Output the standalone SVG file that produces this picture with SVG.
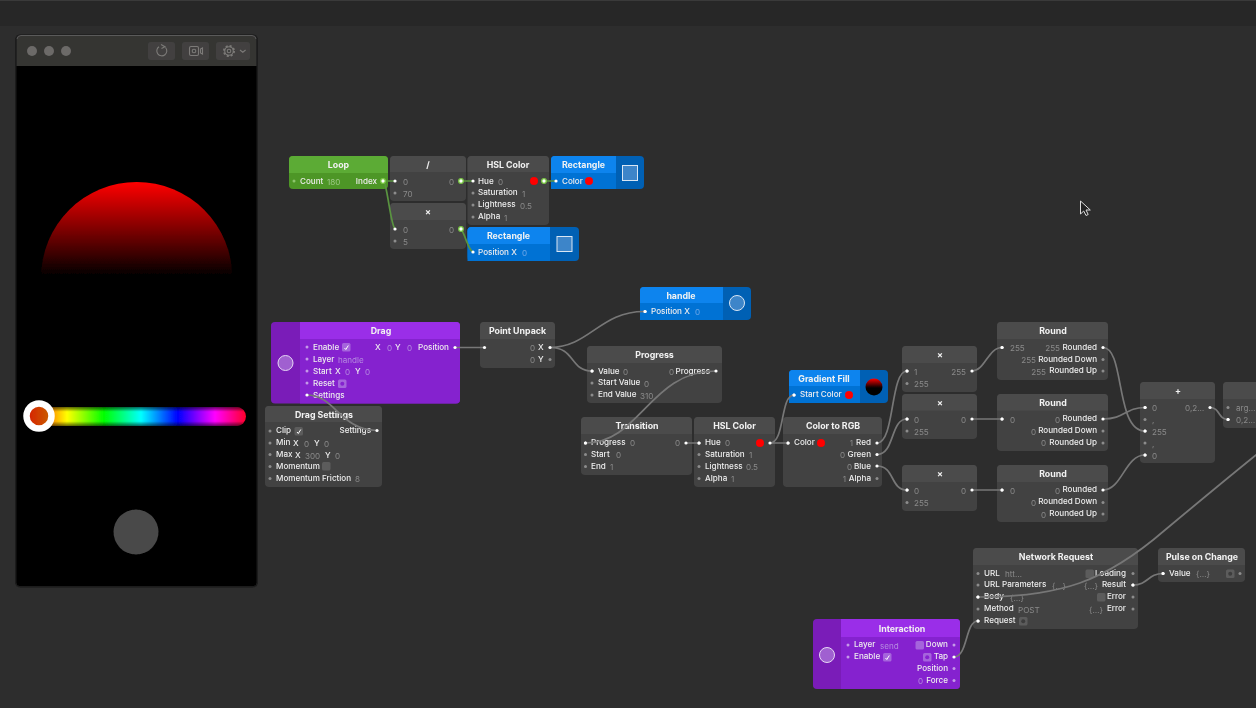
<svg xmlns="http://www.w3.org/2000/svg" width="1256" height="708" viewBox="0 0 1256 708">
<style>
text{font-family:"Inter","Liberation Sans",sans-serif;font-size:8.1px;font-weight:500;fill:#eee}
.t{font-size:8.8px;font-weight:700;text-anchor:middle;fill:#f2f2f2}
.e{text-anchor:end}
.v{fill:#8a8a8a;font-weight:400}
.vp{fill:#b58ae0;font-weight:400}
.vb{fill:#6aa8e8;font-weight:400}
.vg{fill:#9cc986;font-weight:400}
.b{fill:#424242}.h{fill:#4c4c4c}
.p{fill:#8c8c8c}.w{fill:#fff}
.pp{fill:#c49ae8}.pb{fill:#fff}
.r{fill:#f00}
.cb{fill:#5c5c5c}.cp{fill:#a565dc}
.c{fill:none;stroke:#777;stroke-width:1.700;stroke-linecap:round}
.g{fill:none;stroke:#5a9440;stroke-width:1.700;stroke-linecap:round}
.go{fill:#fff;stroke:#7ac943;stroke-width:1.300}
.tick{fill:none;stroke:#fff;stroke-width:1}
.th{fill:#3d85c9;stroke:#d8e6f4;stroke-width:1}
.tp{fill:#a060d0;stroke:#e6d6f4;stroke-width:1}
.i{fill:none;stroke:#7c7a78;stroke-width:1.100}
.dot{fill:#6c6a68}
.btn{fill:#424140}
</style>
<defs>
<linearGradient id="sun" gradientUnits="userSpaceOnUse" x1="0" y1="182" x2="0" y2="276"><stop offset="0" stop-color="#f00"/><stop offset="1" stop-color="#000"/></linearGradient>
<linearGradient id="gf" x1="0" y1="0" x2="0" y2="1"><stop offset="0" stop-color="#f00"/><stop offset=".55" stop-color="#000"/></linearGradient>
<linearGradient id="hue" gradientUnits="userSpaceOnUse" x1="30" y1="0" x2="252" y2="0"><stop offset="0" stop-color="#f00"/><stop offset=".1667" stop-color="#ff0"/><stop offset=".3333" stop-color="#0f0"/><stop offset=".5" stop-color="#0ff"/><stop offset=".6667" stop-color="#00f"/><stop offset=".8333" stop-color="#f0f"/><stop offset="1" stop-color="#f00"/></linearGradient>
<linearGradient id="fade" x1="0" y1="0" x2="0" y2="1"><stop offset="0" stop-color="#000" stop-opacity=".6"/><stop offset=".25" stop-color="#000" stop-opacity="0"/><stop offset=".75" stop-color="#000" stop-opacity="0"/><stop offset="1" stop-color="#000" stop-opacity=".6"/></linearGradient>
<linearGradient id="knob" x1="0" y1="0" x2="1" y2="0"><stop offset="0" stop-color="#d81c00"/><stop offset="1" stop-color="#c86400"/></linearGradient>
<clipPath id="sunclip"><rect x="30" y="170" width="220" height="106"/></clipPath>
<filter id="soft" x="0" y="0" width="100%" height="100%"><feGaussianBlur stdDeviation=".3"/></filter>
</defs>
<rect width="1256" height="708" fill="#2d2d2d"/>
<rect width="1256" height="26" fill="#272727"/>
<rect width="1256" height="1" fill="#3a3a3a"/>
<g filter="url(#soft)">
<g id="preview">
<rect x="15" y="34.500" width="243" height="553" rx="5" fill="#1c1c1c"/>
<rect x="16.500" y="35.500" width="240" height="550.500" rx="4" fill="#000"/>
<path d="M16.500 66V39.500a4 4 0 0 1 4-4h232a4 4 0 0 1 4 4V66z" fill="#353433"/>
<path d="M17 39a4 4 0 0 1 4-3.500h231a4 4 0 0 1 4 3.500" fill="none" stroke="#5a5a5a"/>
<circle class="dot" cx="32" cy="51" r="5"/><circle class="dot" cx="49" cy="51" r="5"/><circle class="dot" cx="66" cy="51" r="5"/>
<rect class="btn" x="148" y="42" width="27" height="18" rx="3"/><rect class="btn" x="182" y="42" width="27" height="18" rx="3"/><rect class="btn" x="216" y="42" width="34" height="18" rx="3"/>
<path class="i" d="M165.500 47.500a5 5 0 1 1-6.500-.8M161 44.500l4 2.300-3.500 1.800"/>
<rect class="i" x="189.500" y="46.500" width="9" height="9" rx="1.500"/><circle class="i" cx="194" cy="51" r="1.800"/><path class="i" d="M200.500 49l2-1v6l-2-1z"/>
<circle cx="229" cy="51" r="5" fill="none" stroke="#7c7a78" stroke-width="2" stroke-dasharray="2 1.930"/><circle class="i" cx="229" cy="51" r="4.300"/><circle class="i" cx="229" cy="51" r="1.800"/><path class="i" d="M240 50l2.800 2.200 2.800-2.200"/>
<circle cx="136.700" cy="277.600" r="95.600" fill="url(#sun)" clip-path="url(#sunclip)"/>
<rect x="39" y="407" width="207" height="19" rx="9.500" fill="url(#hue)"/>
<rect x="39" y="407" width="207" height="19" rx="9.500" fill="url(#fade)"/>
<circle cx="39" cy="416" r="12.500" fill="url(#knob)" stroke="#fff" stroke-width="6.500"/>
<circle cx="136" cy="532" r="22.500" fill="#484848"/>
</g>

<g id="loop"><rect x="289" y="156" width="99" height="33" rx="4" fill="#4e9625"/><path d="M289 173v-13a4 4 0 0 1 4-4h91a4 4 0 0 1 4 4v13z" fill="#5bab34"/>
<text class="t" x="338.500" y="167.500">Loop</text><circle cx="294" cy="181" r="1.500" fill="#8cc46c"/><text x="300" y="183.500">Count</text><text class="vg" x="327" y="184.500">180</text><text class="e" x="377" y="183.500">Index</text></g>

<g id="divide"><rect class="b" x="390" y="156" width="76" height="45" rx="4"/><path class="h" d="M390 172v-12a4 4 0 0 1 4-4h68a4 4 0 0 1 4 4v12z"/>
<text class="t" x="428" y="167.500">/</text><circle class="p" cx="395" cy="193" r="1.500"/><text class="v" x="403" y="184.500">0</text><text class="v" x="403" y="196.500">70</text><text class="v e" x="454" y="184.500">0</text></g>

<g id="mul0"><rect class="b" x="390" y="203" width="76" height="46" rx="4"/><path class="h" d="M390 220v-13a4 4 0 0 1 4-4h68a4 4 0 0 1 4 4v13z"/>
<text class="t" x="428" y="215">×</text><circle class="p" cx="395" cy="241" r="1.500"/><text class="v" x="403" y="232.500">0</text><text class="v" x="403" y="244.500">5</text><text class="v e" x="454" y="232.500">0</text></g>

<g id="hsl1"><rect class="b" x="467.500" y="156" width="81.500" height="69" rx="4"/><path class="h" d="M467.500 172v-12a4 4 0 0 1 4-4h73.500a4 4 0 0 1 4 4v12z"/>
<text class="t" x="508" y="167.500">HSL Color</text>
<circle class="p" cx="473" cy="193" r="1.500"/><circle class="p" cx="473" cy="205" r="1.500"/><circle class="p" cx="473" cy="217" r="1.500"/>
<text x="478" y="183.500">Hue</text><text class="v" x="498" y="184.500">0</text><text x="478" y="195">Saturation</text><text class="v" x="522" y="196.500">1</text><text x="478" y="207">Lightness</text><text class="v" x="520" y="208.500">0.5</text><text x="478" y="219">Alpha</text><text class="v" x="504" y="220.500">1</text><circle class="r" cx="534" cy="181" r="4"/></g>

<g id="rect1"><rect x="551" y="156" width="93" height="33" rx="4" fill="#0560b4"/><path d="M551 189v-29a4 4 0 0 1 4-4h61v33z" fill="#0672d4"/><path d="M551 173v-13a4 4 0 0 1 4-4h61v17z" fill="#0a84ee"/>
<text class="t" x="583.500" y="167.500">Rectangle</text><text x="562" y="183.500">Color</text><circle class="r" cx="589" cy="181" r="4"/><rect class="th" x="622.500" y="165.500" width="15" height="15"/></g>

<g id="rect2"><rect x="467.500" y="227" width="111.500" height="34" rx="4" fill="#0560b4"/><path d="M467.500 261v-30a4 4 0 0 1 4-4h78.500v34z" fill="#0672d4"/><path d="M467.500 244v-13a4 4 0 0 1 4-4h78.500v17z" fill="#0a84ee"/>
<text class="t" x="508.500" y="239">Rectangle</text><text x="478" y="254.500">Position X</text><text class="vb" x="522" y="255.500">0</text><rect class="th" x="557" y="236.500" width="15" height="15"/></g>

<g id="handle"><rect x="640" y="287" width="111" height="33" rx="4" fill="#0560b4"/><path d="M640 320v-29a4 4 0 0 1 4-4h79v33z" fill="#0672d4"/><path d="M640 303v-12a4 4 0 0 1 4-4h79v16z" fill="#0a84ee"/>
<text class="t" x="681" y="298.500">handle</text><circle class="w" cx="645" cy="311.500" r="1.600"/><text x="651" y="313.500">Position X</text><text class="vb" x="695" y="315">0</text><circle class="th" cx="737" cy="303" r="7.500"/></g>

<g id="drag"><rect x="271" y="322" width="189" height="81.500" rx="4" fill="#7a1fb8"/><path d="M300 403.500V322h156a4 4 0 0 1 4 4v73.500a4 4 0 0 1-4 4z" fill="#8521cf"/><path d="M300 339v-17h156a4 4 0 0 1 4 4v13z" fill="#9a2ee8"/>
<text class="t" x="381" y="334">Drag</text><circle class="tp" cx="285.500" cy="363" r="7.500"/>
<circle class="pp" cx="307" cy="347" r="1.500"/><circle class="pp" cx="307" cy="359" r="1.500"/><circle class="pp" cx="307" cy="371" r="1.500"/><circle class="pp" cx="307" cy="383" r="1.500"/>
<text x="313" y="349.500">Enable</text><rect class="cp" x="342" y="343" width="8.500" height="8.500" rx="1.500"/><path class="tick" d="M344.500 348l1.300 1.500 2.500-4"/>
<text x="375" y="350">X</text><text class="vp" x="387" y="350.500">0</text><text x="395" y="350">Y</text><text class="vp" x="407" y="350.500">0</text><text x="418" y="349.500">Position</text>
<text x="313" y="361.500">Layer</text><text class="vp" x="338" y="362.500">handle</text>
<text x="313" y="373.500">Start</text><text x="335" y="374">X</text><text class="vp" x="345" y="374.500">0</text><text x="355" y="374">Y</text><text class="vp" x="365" y="374.500">0</text>
<text x="313" y="385.500">Reset</text><rect class="cp" x="338" y="379.500" width="8.500" height="8.500" rx="1.500"/><circle cx="342.300" cy="383.700" r="2" fill="#8521cf"/>
<text x="313" y="397.500">Settings</text></g>

<g id="pointunpack"><rect class="b" x="480" y="322" width="75" height="46" rx="4"/><path class="h" d="M480 339v-13a4 4 0 0 1 4-4h67a4 4 0 0 1 4 4v13z"/>
<text class="t" x="517.500" y="334">Point Unpack</text><text class="v e" x="535" y="351">0</text><text x="538" y="350">X</text><text class="v e" x="535" y="363">0</text><text x="538" y="362">Y</text><circle class="p" cx="550" cy="359.500" r="1.500"/></g>

<g id="dragsettings"><rect class="b" x="265" y="406" width="117" height="81" rx="4"/><path class="h" d="M265 422v-12a4 4 0 0 1 4-4h109a4 4 0 0 1 4 4v12z"/>
<text class="t" x="324" y="417.500">Drag Settings</text>
<circle class="p" cx="270" cy="431" r="1.500"/><circle class="p" cx="270" cy="443" r="1.500"/><circle class="p" cx="270" cy="454.500" r="1.500"/><circle class="p" cx="270" cy="466.500" r="1.500"/><circle class="p" cx="270" cy="478.500" r="1.500"/>
<text x="276" y="433">Clip</text><rect class="cb" x="294.500" y="427" width="8.500" height="8.500" rx="1.500"/><path class="tick" d="M297 432l1.300 1.500 2.500-4"/><text class="e" x="371" y="433">Settings</text>
<text x="276" y="445">Min</text><text x="293" y="445.500">X</text><text class="v" x="304" y="446.500">0</text><text x="314" y="445.500">Y</text><text class="v" x="324" y="446.500">0</text>
<text x="276" y="457">Max</text><text x="295" y="457.500">X</text><text class="v" x="305" y="458.500">300</text><text x="325" y="457.500">Y</text><text class="v" x="335" y="458.500">0</text>
<text x="276" y="468.500">Momentum</text><rect class="cb" x="322" y="462" width="8.500" height="8.500" rx="1.500"/>
<text x="276" y="480.500">Momentum Friction</text><text class="v" x="355" y="482">8</text></g>

<g id="progress"><rect class="b" x="587" y="346" width="135" height="57" rx="4"/><path class="h" d="M587 363v-13a4 4 0 0 1 4-4h127a4 4 0 0 1 4 4v13z"/>
<text class="t" x="654.500" y="358">Progress</text><circle class="w" cx="592" cy="371" r="1.600"/><circle class="p" cx="592" cy="383" r="1.500"/><circle class="p" cx="592" cy="395" r="1.500"/>
<text x="598" y="373.500">Value</text><text class="v" x="623" y="375">0</text><text x="598" y="385">Start Value</text><text class="v" x="644" y="387">0</text><text x="598" y="397">End Value</text><text class="v" x="640" y="399">310</text><text class="v e" x="674" y="375">0</text><text class="e" x="710" y="373.500">Progress</text></g>

<g id="gradientfill"><rect x="789" y="370" width="99" height="33" rx="4" fill="#0560b4"/><path d="M789 403v-29a4 4 0 0 1 4-4h67v33z" fill="#0672d4"/><path d="M789 386v-12a4 4 0 0 1 4-4h67v16z" fill="#0a84ee"/>
<text class="t" x="824" y="381.500">Gradient Fill</text><circle class="w" cx="794" cy="395" r="1.600"/><text x="800" y="397">Start Color</text><circle class="r" cx="849" cy="395" r="4"/><circle cx="874" cy="387" r="8.500" fill="url(#gf)"/></g>

<g id="transition"><rect class="b" x="581" y="417" width="111" height="58" rx="4"/><path class="h" d="M581 434v-13a4 4 0 0 1 4-4h103a4 4 0 0 1 4 4v13z"/>
<text class="t" x="637" y="429">Transition</text><circle class="w" cx="585.500" cy="443" r="1.600"/><circle class="p" cx="585.500" cy="454.500" r="1.500"/><circle class="p" cx="585.500" cy="466.500" r="1.500"/>
<text x="591" y="445">Progress</text><text class="v" x="630" y="446">0</text><text x="591" y="457">Start</text><text class="v" x="616" y="458">0</text><text x="591" y="468.500">End</text><text class="v" x="610" y="470">1</text><text class="v e" x="680" y="446">0</text></g>

<g id="hsl2"><rect class="b" x="694" y="417" width="81" height="70" rx="4"/><path class="h" d="M694 434v-13a4 4 0 0 1 4-4h73a4 4 0 0 1 4 4v13z"/>
<text class="t" x="734.500" y="429">HSL Color</text><circle class="w" cx="699" cy="443" r="1.600"/><circle class="p" cx="699" cy="454.500" r="1.500"/><circle class="p" cx="699" cy="466.500" r="1.500"/><circle class="p" cx="699" cy="478.500" r="1.500"/>
<text x="705" y="445">Hue</text><text class="v" x="725" y="446">0</text><text x="705" y="457">Saturation</text><text class="v" x="749" y="458">1</text><text x="705" y="468.500">Lightness</text><text class="v" x="746" y="470">0.5</text><text x="705" y="480.500">Alpha</text><text class="v" x="731" y="482">1</text><circle class="r" cx="760" cy="443" r="4"/></g>

<g id="colortorgb"><rect class="b" x="783" y="417" width="99" height="70" rx="4"/><path class="h" d="M783 434v-13a4 4 0 0 1 4-4h91a4 4 0 0 1 4 4v13z"/>
<text class="t" x="833" y="429">Color to RGB</text><circle class="w" cx="788" cy="443" r="1.600"/><text x="794" y="445">Color</text><circle class="r" cx="821" cy="443" r="4"/>
<text class="v e" x="853" y="446">1</text><text class="e" x="871" y="445">Red</text><text class="v e" x="845" y="458">0</text><text class="e" x="871" y="457">Green</text><text class="v e" x="852" y="470">0</text><text class="e" x="871" y="468.500">Blue</text><text class="v e" x="846" y="482">1</text><text class="e" x="871" y="480.500">Alpha</text>
<circle class="p" cx="877" cy="478.500" r="1.500"/></g>

<g id="mul1"><rect class="b" x="902" y="346" width="75" height="46" rx="4"/><path class="h" d="M902 363v-13a4 4 0 0 1 4-4h67a4 4 0 0 1 4 4v13z"/>
<text class="t" x="940" y="358">×</text><circle class="w" cx="907" cy="371" r="1.600"/><circle class="p" cx="907" cy="383.500" r="1.500"/><text class="v" x="914" y="375">1</text><text class="v" x="914" y="387">255</text><text class="v e" x="966" y="375">255</text></g>
<g id="mul2"><rect class="b" x="902" y="394" width="75" height="45" rx="4"/><path class="h" d="M902 410.500v-12.500a4 4 0 0 1 4-4h67a4 4 0 0 1 4 4v12.500z"/>
<text class="t" x="940" y="406">×</text><circle class="w" cx="907" cy="419" r="1.600"/><circle class="p" cx="907" cy="431" r="1.500"/><text class="v" x="914" y="423">0</text><text class="v" x="914" y="435">255</text><text class="v e" x="966" y="423">0</text></g>
<g id="mul3"><rect class="b" x="902" y="465" width="75" height="46" rx="4"/><path class="h" d="M902 482v-13a4 4 0 0 1 4-4h67a4 4 0 0 1 4 4v13z"/>
<text class="t" x="940" y="477">×</text><circle class="w" cx="907" cy="490" r="1.600"/><circle class="p" cx="907" cy="502.500" r="1.500"/><text class="v" x="914" y="494">0</text><text class="v" x="914" y="506">255</text><text class="v e" x="966" y="494">0</text></g>

<g id="round1"><rect class="b" x="997" y="322" width="111" height="58" rx="4"/><path class="h" d="M997 339v-13a4 4 0 0 1 4-4h103a4 4 0 0 1 4 4v13z"/>
<text class="t" x="1053" y="334">Round</text><circle class="w" cx="1002" cy="347.500" r="1.600"/><text class="v" x="1010" y="351">255</text>
<text class="v e" x="1060" y="351">255</text><text class="e" x="1097" y="349.500">Rounded</text><text class="v e" x="1036" y="363">255</text><text class="e" x="1097" y="361.500">Rounded Down</text><text class="v e" x="1046" y="374.500">255</text><text class="e" x="1097" y="373">Rounded Up</text><circle class="p" cx="1103" cy="359.500" r="1.500"/><circle class="p" cx="1103" cy="371" r="1.500"/></g>
<g id="round2"><rect class="b" x="997" y="394" width="111" height="57" rx="4"/><path class="h" d="M997 410.500v-12.500a4 4 0 0 1 4-4h103a4 4 0 0 1 4 4v12.500z"/>
<text class="t" x="1053" y="406">Round</text><circle class="w" cx="1002" cy="419" r="1.600"/><text class="v" x="1010" y="423">0</text>
<text class="v e" x="1060" y="423">0</text><text class="e" x="1097" y="421">Rounded</text><text class="v e" x="1036" y="434.500">0</text><text class="e" x="1097" y="433">Rounded Down</text><text class="v e" x="1046" y="446">0</text><text class="e" x="1097" y="445">Rounded Up</text><circle class="p" cx="1103" cy="431" r="1.500"/><circle class="p" cx="1103" cy="443" r="1.500"/></g>
<g id="round3"><rect class="b" x="997" y="465" width="111" height="57" rx="4"/><path class="h" d="M997 482v-13a4 4 0 0 1 4-4h103a4 4 0 0 1 4 4v13z"/>
<text class="t" x="1053" y="477">Round</text><circle class="w" cx="1002" cy="490" r="1.600"/><text class="v" x="1010" y="494">0</text>
<text class="v e" x="1060" y="494">0</text><text class="e" x="1097" y="492">Rounded</text><text class="v e" x="1036" y="506">0</text><text class="e" x="1097" y="504">Rounded Down</text><text class="v e" x="1046" y="517.500">0</text><text class="e" x="1097" y="516">Rounded Up</text><circle class="p" cx="1103" cy="502.500" r="1.500"/><circle class="p" cx="1103" cy="514" r="1.500"/></g>

<g id="plus"><rect class="b" x="1140" y="382" width="75" height="81" rx="4"/><path class="h" d="M1140 399v-13a4 4 0 0 1 4-4h67a4 4 0 0 1 4 4v13z"/>
<text class="t" x="1178" y="394">+</text><circle class="w" cx="1145" cy="407.500" r="1.600"/><circle class="p" cx="1145" cy="419.500" r="1.500"/><circle class="w" cx="1145" cy="431" r="1.600"/><circle class="p" cx="1145" cy="443" r="1.500"/><circle class="w" cx="1145" cy="455" r="1.600"/>
<text class="v" x="1152" y="411">0</text><text class="v" x="1152" y="423">,</text><text class="v" x="1152" y="435">255</text><text class="v" x="1152" y="447">,</text><text class="v" x="1152" y="458.500">0</text><text class="v" x="1185" y="411">0,2…</text></g>

<g id="cropped"><rect class="b" x="1223" y="382" width="60" height="46" rx="4"/><path class="h" d="M1223 399v-13a4 4 0 0 1 4-4h40v17z"/><circle class="p" cx="1228" cy="407.500" r="1.500"/><circle class="w" cx="1228" cy="419.500" r="1.600"/><text class="v" x="1236" y="411">arg…</text><text class="v" x="1236" y="423">0,2…</text></g>

<g id="network"><rect class="b" x="973" y="548" width="165" height="81" rx="4"/><path class="h" d="M973 565v-13a4 4 0 0 1 4-4h157a4 4 0 0 1 4 4v13z"/>
<text class="t" x="1056" y="560">Network Request</text>
<circle class="p" cx="978" cy="573.500" r="1.500"/><circle class="p" cx="978" cy="585" r="1.500"/><circle class="w" cx="978" cy="597" r="1.600"/><circle class="p" cx="978" cy="609" r="1.500"/><circle class="w" cx="978" cy="621" r="1.600"/>
<text x="984" y="575.500">URL</text><text class="v" x="1005" y="577">htt…</text><text x="984" y="587">URL Parameters</text><text class="v" x="1052" y="589">{…}</text><text x="984" y="599">Body</text><text class="v" x="1010" y="601">{…}</text><text x="984" y="611">Method</text><text class="v" x="1018" y="613">POST</text><text x="984" y="623">Request</text>
<rect class="cb" x="1019" y="617" width="8.500" height="8.500" rx="1.500"/><circle cx="1023.200" cy="621.200" r="2" fill="#3c3c3c"/>
<rect class="cb" x="1085.500" y="569.500" width="8.500" height="8.500" rx="1.500"/><text class="e" x="1126" y="575.500">Loading</text>
<text class="v" x="1084" y="589">{…}</text><text class="e" x="1126" y="587">Result</text>
<rect class="cb" x="1097" y="593" width="8.500" height="8.500" rx="1.500"/><text class="e" x="1126" y="599">Error</text>
<text class="v" x="1089" y="613">{…}</text><text class="e" x="1126" y="611">Error</text>
<circle class="p" cx="1133" cy="573.500" r="1.500"/><circle class="w" cx="1133" cy="585" r="1.600"/><circle class="p" cx="1133" cy="597" r="1.500"/><circle class="p" cx="1133" cy="609" r="1.500"/></g>

<g id="pulse"><rect class="b" x="1158" y="548" width="87" height="34" rx="4"/><path class="h" d="M1158 565v-13a4 4 0 0 1 4-4h79a4 4 0 0 1 4 4v13z"/>
<text class="t" x="1202" y="560">Pulse on Change</text><circle class="w" cx="1163" cy="573.500" r="1.600"/><text x="1169" y="575.500">Value</text><text class="v" x="1196" y="577">{…}</text>
<rect class="cb" x="1226" y="569.500" width="8.500" height="8.500" rx="1.500"/><circle cx="1230.200" cy="573.700" r="2" fill="#3c3c3c"/><circle class="p" cx="1240" cy="573.500" r="1.500"/></g>

<g id="interaction"><rect x="813" y="619" width="147" height="70" rx="4" fill="#7a1fb8"/><path d="M841 689v-70h115a4 4 0 0 1 4 4v62a4 4 0 0 1-4 4z" fill="#8521cf"/><path d="M841 637v-18h115a4 4 0 0 1 4 4v14z" fill="#9a2ee8"/>
<text class="t" x="902" y="632">Interaction</text><circle class="tp" cx="827" cy="655" r="7.500"/>
<circle class="pp" cx="848" cy="645" r="1.500"/><circle class="pp" cx="848" cy="657" r="1.500"/>
<text x="854" y="647">Layer</text><text class="vp" x="880" y="649">send</text><text x="854" y="659">Enable</text>
<rect class="cp" x="883" y="653" width="8.500" height="8.500" rx="1.500"/><path class="tick" d="M885.500 658l1.300 1.500 2.500-4"/>
<rect class="cp" x="915.500" y="641" width="8.500" height="8.500" rx="1.500"/><text class="e" x="948" y="647">Down</text>
<rect class="cp" x="923" y="653" width="8.500" height="8.500" rx="1.500"/><circle cx="927.200" cy="657.200" r="2" fill="#8521cf"/><text class="e" x="948" y="659">Tap</text>
<text class="e" x="948" y="671">Position</text><text class="vp e" x="923" y="684">0</text><text class="e" x="948" y="682.500">Force</text>
<circle class="pp" cx="954" cy="645" r="1.500"/><circle class="pp" cx="954" cy="668.500" r="1.500"/><circle class="pp" cx="954" cy="680.500" r="1.500"/></g>

<g id="connectors">
<path class="g" d="M383 181H395"/><path class="g" d="M385 184C389 200 391 224 395 229"/><path class="g" d="M461 181H473"/><path class="g" d="M461 229C466 236 468 250 473 252"/><path class="g" d="M544 181H556"/>
<path class="c" d="M455 347.500H484.500"/><path class="c" d="M307 395C335 395 340 430 377 430.500"/>
<path class="c" d="M550 347.500C590 347 600 311 645 311.500"/><path class="c" d="M550 347.500C575 347 570 371 592 371"/>
<path class="c" d="M716 371C650 371 640 443 585.500 443"/>
<path class="c" d="M686 443H699"/><path class="c" d="M770 443H788"/><path class="c" d="M770 443C785 443 780 395 794 395"/>
<path class="c" d="M877 443C895 443 890 371 907 371"/><path class="c" d="M877 454.500C895 454.500 890 419 907 419"/><path class="c" d="M877 466C895 466 890 490 907 490"/>
<path class="c" d="M972 371C985 371 988 347.500 1002 347.500"/><path class="c" d="M972 419H1002"/><path class="c" d="M972 490H1002"/>
<path class="c" d="M1103 347.500C1125 347.500 1115 431 1145 431"/><path class="c" d="M1103 419C1125 419 1125 407.500 1145 407.500"/><path class="c" d="M1103 490C1122 490 1125 455 1145 455"/>
<path class="c" d="M1210 407.500C1220 407.500 1218 419.500 1228 419.500"/>
<path class="c" d="M978 597C1060 597 1105 582 1165 530C1195 505 1225 480 1256 455"/>
<path class="c" d="M954 657C968 657 965 621 978 621"/>
<path class="c" d="M1133 585C1148 585 1148 573.500 1163 573.500"/>
</g>
<g id="ports">
<circle class="go" cx="383" cy="181" r="2.300"/><circle class="w" cx="395" cy="181" r="1.600"/><circle class="w" cx="395" cy="229" r="1.600"/><circle class="go" cx="461" cy="181" r="2.300"/><circle class="go" cx="461" cy="229" r="2.300"/><circle class="w" cx="473" cy="181" r="1.600"/><circle class="w" cx="473" cy="252" r="1.600"/><circle class="go" cx="544" cy="181" r="2.300"/><circle class="w" cx="556" cy="181" r="1.600"/>
<circle class="w" cx="307" cy="395" r="1.600"/><circle class="w" cx="484.500" cy="347.500" r="1.600"/><circle class="w" cx="645" cy="311.500" r="1.600"/><circle class="w" cx="592" cy="371" r="1.600"/><circle class="w" cx="585.500" cy="443" r="1.600"/><circle class="w" cx="699" cy="443" r="1.600"/><circle class="w" cx="788" cy="443" r="1.600"/><circle class="w" cx="794" cy="395" r="1.600"/><circle class="w" cx="907" cy="371" r="1.600"/><circle class="w" cx="907" cy="419" r="1.600"/><circle class="w" cx="907" cy="490" r="1.600"/><circle class="w" cx="1002" cy="347.500" r="1.600"/><circle class="w" cx="1002" cy="419" r="1.600"/><circle class="w" cx="1002" cy="490" r="1.600"/><circle class="w" cx="1145" cy="407.500" r="1.600"/><circle class="w" cx="1145" cy="431" r="1.600"/><circle class="w" cx="1145" cy="455" r="1.600"/><circle class="w" cx="1228" cy="419.500" r="1.600"/><circle class="w" cx="978" cy="597" r="1.600"/><circle class="w" cx="978" cy="621" r="1.600"/><circle class="w" cx="1163" cy="573.500" r="1.600"/><circle class="w" cx="954" cy="657" r="1.600"/><circle class="w" cx="1133" cy="585" r="1.600"/>
<circle class="w" cx="455" cy="347.500" r="1.600"/><circle class="w" cx="550" cy="347.500" r="1.600"/><circle class="w" cx="377" cy="430.500" r="1.600"/><circle class="w" cx="716" cy="371" r="1.600"/><circle class="w" cx="686" cy="443" r="1.600"/><circle class="w" cx="770" cy="443" r="1.600"/><circle class="w" cx="877" cy="443" r="1.600"/><circle class="w" cx="877" cy="454.500" r="1.600"/><circle class="w" cx="877" cy="466" r="1.600"/><circle class="w" cx="972" cy="371" r="1.600"/><circle class="w" cx="972" cy="419" r="1.600"/><circle class="w" cx="972" cy="490" r="1.600"/><circle class="w" cx="1103" cy="347.500" r="1.600"/><circle class="w" cx="1103" cy="419" r="1.600"/><circle class="w" cx="1103" cy="490" r="1.600"/><circle class="w" cx="1210" cy="407.500" r="1.600"/>
</g>
<path id="cursor" d="M1080.500 201v13l3.200-3 2.300 4.500 2.200-1-2.200-4.500h4.300z" fill="#222" stroke="#ddd" stroke-width="1"/>
</g>
</svg>
